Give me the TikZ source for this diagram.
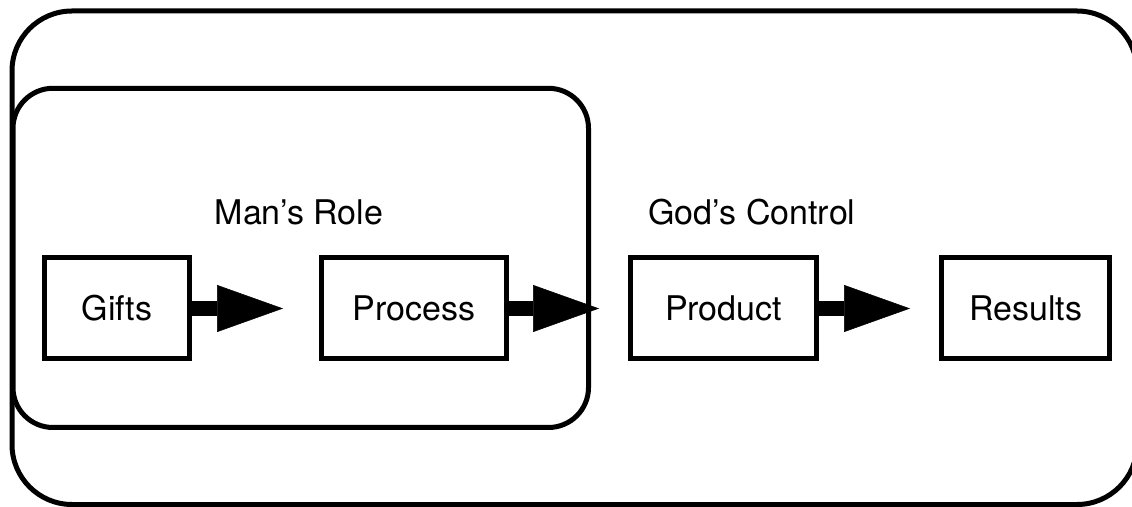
\documentclass[tikz,border=0pt]{standalone}
\usepackage{fontspec}
\setmainfont{TeX Gyre Heros}
\usetikzlibrary{positioning,arrows.meta}

\begin{document}
\begin{tikzpicture}[line width=5pt,
    box/.style = {draw, minimum height=101pt, font=\fontsize{34}{40}\selectfont},
    tag/.style = {font=\fontsize{34}{40}\selectfont},
    flow/.style = {-{Triangle[length=66pt,width=47pt,line width=0.5pt]}, line width=15pt}]
    \useasboundingbox (0,0) rectangle (1132pt,506pt);
    \draw[rounded corners=60pt] (12pt,1.5pt) rectangle (1137pt,495pt);
    \draw[rounded corners=40pt] (13pt,78.5pt) rectangle (588.5pt,417.7pt);

    \node[box, minimum width=145pt] (gifts) at (117pt,197.5pt) {Gifts};
    \node[box, minimum width=185pt] (process) [right=127pt of gifts]   {Process};
    \node[box, minimum width=186pt] (product) [right=119pt of process] {Product};
    \node[box, minimum width=168pt] (results) [right=120pt of product] {Results};

    \node[tag] (role)    at (299pt,294pt) {Man’s Role};
    \node[tag] (control) at (752pt,294pt) {God’s Control};

    \draw[flow, shorten >=36pt] (gifts) -- (process);
    \draw[flow, shorten >=29pt] (process) -- (product);
    \draw[flow, shorten >=29pt] (product) -- (results);
\end{tikzpicture}
\end{document}
